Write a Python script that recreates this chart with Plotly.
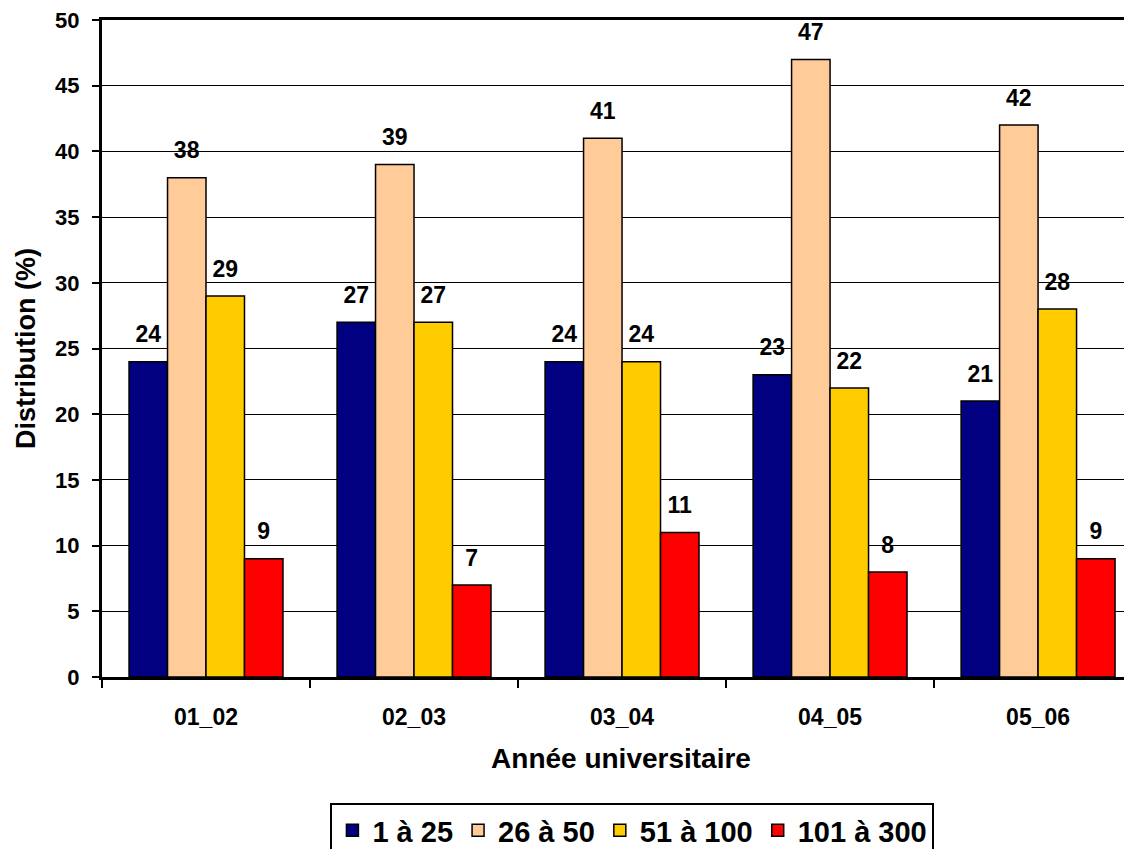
import plotly.graph_objects as go

categories = ["01_02", "02_03", "03_04", "04_05", "05_06"]
series_names = ["1 à 25", "26 à 50", "51 à 100", "101 à 300"]
s1 = [24, 27, 24, 23, 21]
s2 = [38, 39, 41, 47, 42]
s3 = [29, 27, 24, 22, 28]
s4 = [9, 7, 11, 8, 9]
colors = ["#000080", "#FFCC99", "#FFCC00", "#FF0000"]
y_ticks = list(range(0, 51, 5))

font_family = "Liberation Sans, Arial, sans-serif"

fig = go.Figure()
for name, vals, col in zip(series_names, [s1, s2, s3, s4], colors):
    fig.add_trace(go.Bar(
        x=categories, y=vals, name=name,
        marker=dict(color=col, line=dict(color="black", width=1.5)),
        text=[f"<span style='font-size:23px'><b>{v}</b></span><br> " for v in vals],
        textposition="outside",
        constraintext="none",
        textfont=dict(size=11, color="black", family=font_family),
        cliponaxis=False,
    ))

fig.update_layout(
    width=1132, height=849,
    margin=dict(l=94, r=0, t=12, b=180, autoexpand=False),
    paper_bgcolor="white", plot_bgcolor="white",
    barmode="group", bargap=0.26, bargroupgap=0,
    font=dict(family=font_family, color="black"),
    legend=dict(
        orientation="h", x=0.511, xanchor="center",
        yref="container", y=1 - 795 / 849, yanchor="top",
        bordercolor="black", borderwidth=2, bgcolor="white",
        font=dict(size=29, family=font_family, color="black", weight="bold"),
        itemwidth=30, tracegroupgap=0,
    ),
    showlegend=True,
)
fig.update_xaxes(
    range=[-0.5, 4.49], automargin=False,
    showline=True, linecolor="black", linewidth=3, mirror=True,
    ticks="outside", tickson="boundaries", ticklen=8, tickwidth=1.5, tickcolor="black",
    tickvals=categories, ticktext=[f"<b>{c}</b>" for c in categories],
    ticklabelstandoff=17, ticklabeloverflow="allow",
    tickfont=dict(size=23, family=font_family, color="black"),
    title=dict(text="<b>Année universitaire</b>", font=dict(size=28, family=font_family, color="black"), standoff=20),
    showgrid=False,
)
fig.update_yaxes(
    range=[0, 50], automargin=False,
    tickvals=y_ticks, ticktext=[f"<b>{t}</b>" for t in y_ticks],
    showline=True, linecolor="black", linewidth=3,
    ticks="outside", ticklen=7, tickwidth=1.5, tickcolor="black",
    ticklabelstandoff=8, ticklabeloverflow="allow",
    tickfont=dict(size=22, family=font_family, color="black"),
    showgrid=True, gridcolor="black", gridwidth=1,
    title=dict(text="<b>Distribution (%)</b>", font=dict(size=27, family=font_family, color="black"), standoff=12),
    zeroline=False,
)

fig.write_html("out.html")
